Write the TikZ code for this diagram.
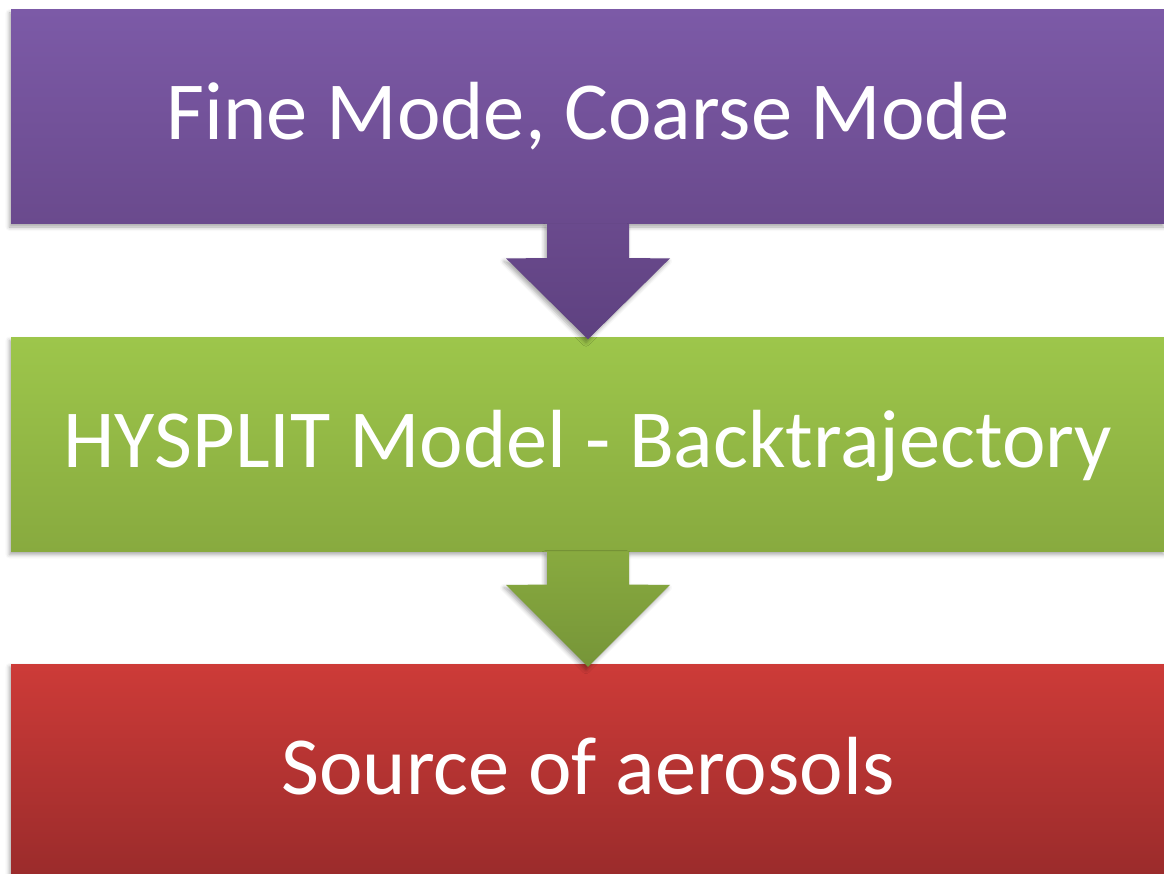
\documentclass[tikz,border=0pt]{standalone}
\usepackage{fontspec}
\setmainfont{Carlito}
\usetikzlibrary{calc,shadows.blur}

\definecolor{purpleTop}{HTML}{7C5AA7}
\definecolor{purpleBot}{HTML}{6A4A8D}
\definecolor{purpleTip}{HTML}{5E4180}
\definecolor{greenTop}{HTML}{9DC64B}
\definecolor{greenBot}{HTML}{88AA3F}
\definecolor{greenTip}{HTML}{769538}
\definecolor{redTop}{HTML}{CD3B38}
\definecolor{redBot}{HTML}{9A2B2B}

\tikzset{
  x=1pt, y=-1pt,
  stagebox/.style={
    rectangle, inner sep=0pt, minimum width=1154pt, minimum height=214pt,
    text=white, font=\fontsize{82.5}{99}\selectfont,
    text height=46pt, text depth=0pt,
    blur shadow={shadow xshift=-1.5pt, shadow yshift=-3pt,
                 shadow blur radius=4pt, shadow opacity=35}
  },
  flowarrow/.style={
    blur shadow={shadow xshift=-2pt, shadow yshift=-3pt,
                 shadow blur radius=4pt, shadow opacity=35}
  }
}

\begin{document}
\begin{tikzpicture}
  \useasboundingbox (0,0) rectangle (1164,874);
  \clip (0,0) rectangle (1164,874);

  % the three stages
  \node[stagebox, top color=purpleTop, bottom color=purpleBot]
       (modes) at (588,117) {Fine Mode, Coarse Mode};
  \node[stagebox, top color=greenTop, bottom color=greenBot]
       (hysplit) at (588,444.5) {HYSPLIT Model - Backtrajectory};
  \node[stagebox, top color=redTop, bottom color=redBot]
       (source) at (588,771) {Source of aerosols};

  % block arrows between the stages
  \path[flowarrow, top color=purpleBot, bottom color=purpleTip]
    ($(modes.south)+(-41,0)$) -- ($(modes.south)+(-41,34)$)
    -- ($(hysplit.north)+(-82,-79)$) -- ($(hysplit.north)+(0,2)$)
    -- ($(hysplit.north)+(82,-79)$) -- ($(modes.south)+(41,34)$)
    -- ($(modes.south)+(41,0)$) -- cycle;
  \path[flowarrow, top color=greenBot, bottom color=greenTip]
    ($(hysplit.south)+(-41,0)$) -- ($(hysplit.south)+(-41,33)$)
    -- ($(source.north)+(-82,-79)$) -- ($(source.north)+(0,3)$)
    -- ($(source.north)+(82,-79)$) -- ($(hysplit.south)+(41,33)$)
    -- ($(hysplit.south)+(41,0)$) -- cycle;
\end{tikzpicture}
\end{document}
